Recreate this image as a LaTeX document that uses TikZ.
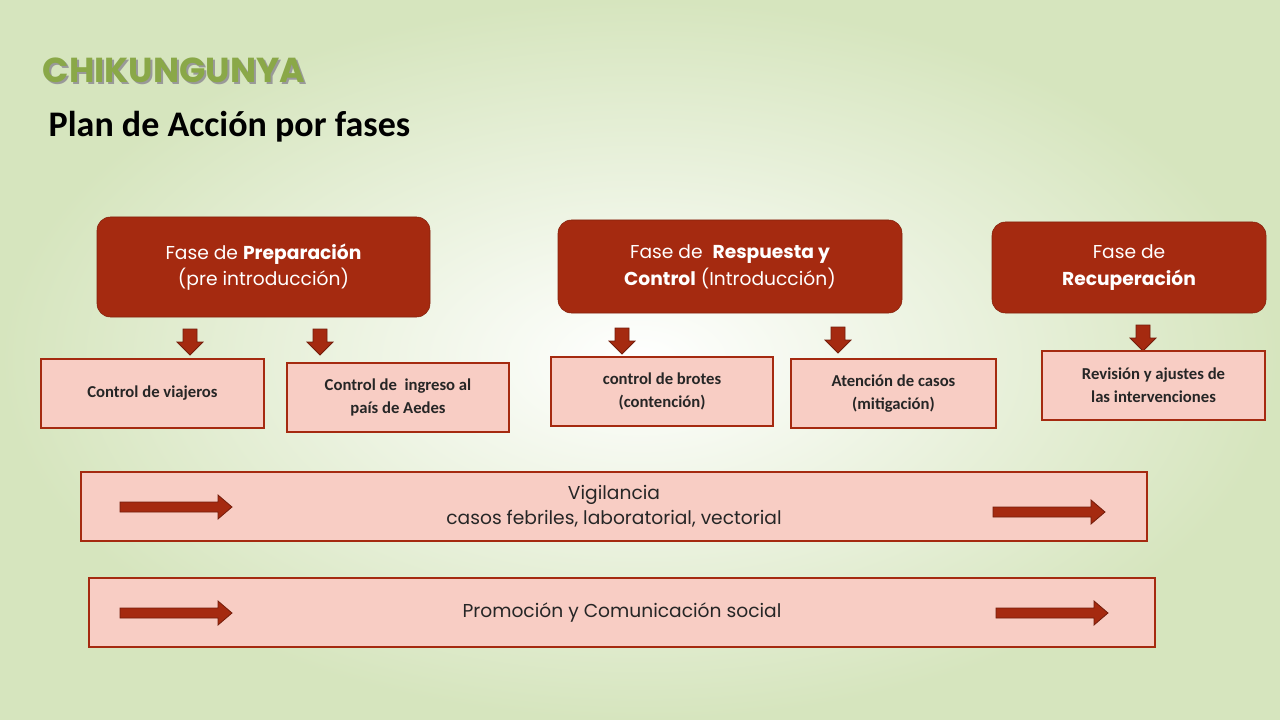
\documentclass[tikz,border=0pt]{standalone}
\usepackage{fontspec}
\setmainfont{Poppins}
\newfontfamily\calfnt{Carlito}
\usetikzlibrary{shadings}
\definecolor{dred}{HTML}{A52A10}
\definecolor{pinkf}{HTML}{F8CDC4}
\definecolor{titg}{HTML}{8AA848}
\definecolor{bgg}{HTML}{D6E5BE}
\tikzset{
  phase/.style={draw=dred!80!black,fill=dred,rounded corners=10pt,text=white,align=center,font=\fontsize{14}{20}\selectfont,inner sep=0pt},
  sub/.style={draw=dred,fill=pinkf,line width=0.9pt,align=center,text=black!85,font=\calfnt\bfseries\fontsize{12.5}{17}\selectfont,inner sep=0pt},
  band/.style={draw=dred,fill=pinkf,line width=0.9pt,align=center,text=black!85,font=\fontsize{14}{19}\selectfont,inner sep=0pt},
  blk/.style={fill=dred,draw=dred!70!black,line width=0.6pt}
}
\newcommand{\downarr}[2]{\draw[blk] (#1-7,#2-13)--(#1+7,#2-13)--(#1+7,#2)--(#1+13,#2)--(#1,#2+13)--(#1-13,#2)--(#1-7,#2)--cycle;}
\newcommand{\rightarr}[3]{\draw[blk] (#1,#3-5)--(#2-14,#3-5)--(#2-14,#3-12)--(#2,#3)--(#2-14,#3+12)--(#2-14,#3+5)--(#1,#3+5)--cycle;}
\begin{document}
\begin{tikzpicture}[x=0.75pt,y=-0.75pt]
\shade[inner color=white,outer color=bgg] (0,0) rectangle (1280,720);
\useasboundingbox (0,0) rectangle (1280,720);
\node[anchor=west,text=black!40,font=\bfseries\fontsize{26}{30}\selectfont] at (40,72) {CHIKUNGUNYA};
\node[anchor=west,text=titg,font=\bfseries\fontsize{26}{30}\selectfont] (t1) at (38,70) {CHIKUNGUNYA};
\node[anchor=west,font=\calfnt\bfseries\fontsize{27}{32}\selectfont] (t2) at (44,127) {Plan de Acción por fases};
\node[phase,minimum width=333*0.75pt,minimum height=100*0.75pt] (p1) at (263.5,267) {Fase de \textbf{Preparación}\\(pre introducción)};
\node[phase,minimum width=344*0.75pt,minimum height=93*0.75pt] (p2) at (730,266.5) {Fase de \ \textbf{Respuesta y}\\\textbf{Control} (Introducción)};
\node[phase,minimum width=274*0.75pt,minimum height=91*0.75pt] (p3) at (1129,267.5) {Fase de\\\textbf{Recuperación}};
\downarr{190}{342}
\downarr{320}{342}
\downarr{622}{341}
\downarr{838}{340}
\downarr{1143}{338}
\node[sub,minimum width=223*0.75pt,minimum height=69*0.75pt] (s1) at (152.5,393.5) {Control de viajeros};
\node[sub,minimum width=222*0.75pt,minimum height=69*0.75pt] (s2) at (398,397.5) {Control de \ ingreso al\\país de Aedes};
\node[sub,minimum width=222*0.75pt,minimum height=69*0.75pt] (s3) at (662,391.5) {control de brotes\\(contención)};
\node[sub,minimum width=205*0.75pt,minimum height=69*0.75pt] (s4) at (893.5,393.5) {Atención de casos\\(mitigación)};
\node[sub,minimum width=223*0.75pt,minimum height=69*0.75pt] (s5) at (1153.5,385.5) {Revisión y ajustes de\\las intervenciones};
\node[band,minimum width=1066*0.75pt,minimum height=69*0.75pt] (b1) at (614,506.5) {Vigilancia\\casos febriles, laboratorial, vectorial};
\node[band,minimum width=1066*0.75pt,minimum height=69*0.75pt] (b2) at (622,612.5) {Promoción y Comunicación social};
\rightarr{120}{232}{507}
\rightarr{993}{1105}{512}
\rightarr{120}{232}{613}
\rightarr{996}{1108}{613}
\end{tikzpicture}
\end{document}
